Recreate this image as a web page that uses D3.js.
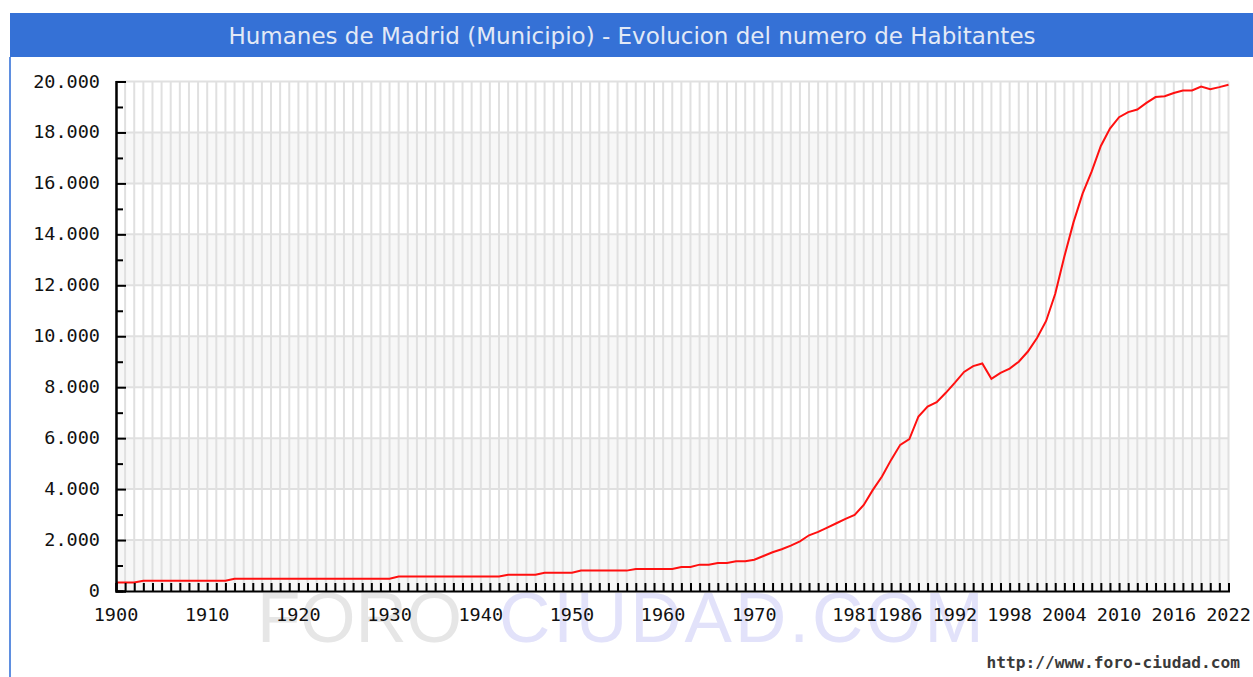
<!DOCTYPE html>
<html>
<head>
<meta charset="utf-8">
<script src="https://cdn.jsdelivr.net/npm/d3@7"></script>
<style>
  html, body { margin: 0; padding: 0; background: #ffffff; }
  svg { display: block; }
</style>
</head>
<body>
<svg id="chart" width="1253" height="677"></svg>
<script>
// ---------- data ----------
const titleText = "Humanes de Madrid (Municipio) - Evolucion del numero de Habitantes";
const sourceText = "http://www.foro-ciudad.com";
const firstYear = 1900;
const lastYear = 2022;
const years = d3.range(firstYear, lastYear + 1);
const population = [
  330, 330, 330,
  400, 400, 400, 400, 400, 400, 400, 400, 400, 400,
  480, 480, 480, 480, 480, 480, 480, 480, 480, 480, 480, 480, 480, 480, 480, 480, 480, 480,
  570, 570, 570, 570, 570, 570, 570, 570, 570, 570, 570, 570,
  640, 640, 640, 640,
  720, 720, 720, 720,
  800, 800, 800, 800, 800, 800,
  865, 865, 865, 865, 865,
  945, 945,
  1035, 1035,
  1100, 1100,
  1165, 1170,
  1230, 1375, 1519, 1637, 1781, 1951, 2187, 2318, 2489, 2659,
  2829, 2986, 3379, 3969, 4493, 5147, 5737, 5960, 6850, 7240,
  7410, 7780, 8180, 8600, 8830, 8930, 8330, 8560, 8730, 9000,
  9400, 9930, 10600, 11670, 13130, 14470, 15600, 16470, 17470, 18150,
  18600, 18800, 18900, 19160, 19390, 19420, 19550, 19650, 19650, 19800,
  19700, 19780, 19870
];
const xTickYears = [1900, 1910, 1920, 1930, 1940, 1950, 1960, 1970, 1981, 1986, 1992, 1998, 2004, 2010, 2016, 2022];
const yTicks = [0, 2000, 4000, 6000, 8000, 10000, 12000, 14000, 16000, 18000, 20000];
const yMinorTicks = [1000, 3000, 5000, 7000, 9000, 11000, 13000, 15000, 17000, 19000];
const watermarkParts = ["FORO", "CIUDAD.COM"];

// ---------- layout ----------
const svg = d3.select("#chart");
const plot = { left: 116, right: 1228.5, top: 81.5, bottom: 591 };
const x = d3.scaleLinear().domain([firstYear, lastYear]).range([plot.left, plot.right]);
const y = d3.scaleLinear().domain([0, 20000]).range([plot.bottom, plot.top]);
const esLocale = d3.formatLocale({ decimal: ",", thousands: ".", grouping: [3], currency: ["", ""] });
const fmt = esLocale.format(",");

// title bar
svg.append("rect").attr("x", 10).attr("y", 13).attr("width", 1243).attr("height", 44).attr("fill", "#3571d6");
svg.append("text").attr("x", 632).attr("y", 43.5).attr("text-anchor", "middle")
  .attr("font-family", "DejaVu Sans, Verdana, sans-serif").attr("font-size", 23)
  .attr("fill", "#e2e9f6").text(titleText);
// left border
svg.append("rect").attr("x", 9).attr("y", 57).attr("width", 2).attr("height", 620).attr("fill", "#5f8fe0");

// watermark
svg.append("text").attr("x", 257).attr("y", 642)
  .attr("font-family", "Liberation Sans, Arial, sans-serif").attr("font-size", 71)
  .attr("fill", "#e6e6e6").text(watermarkParts[0]);
svg.append("text").attr("x", 499).attr("y", 642)
  .attr("font-family", "Liberation Sans, Arial, sans-serif").attr("font-size", 71)
  .attr("letter-spacing", 3)
  .attr("fill", "#e2e2fa").text(watermarkParts[1]);

// bands
const bands = d3.range(0, yTicks.length - 1).filter(i => i % 2 === 0);
svg.append("g").selectAll("rect").data(bands).join("rect")
  .attr("x", plot.left).attr("width", plot.right - plot.left)
  .attr("y", i => y(yTicks[i + 1])).attr("height", i => y(yTicks[i]) - y(yTicks[i + 1]))
  .attr("fill", "#f7f7f7");

// vertical grid lines
svg.append("g").selectAll("line").data(years).join("line")
  .attr("x1", d => x(d)).attr("x2", d => x(d))
  .attr("y1", plot.top).attr("y2", plot.bottom)
  .attr("stroke", "#e0e0e0").attr("stroke-width", 2);
// horizontal grid lines
svg.append("g").selectAll("line").data(yTicks.slice(1)).join("line")
  .attr("x1", plot.left).attr("x2", plot.right)
  .attr("y1", d => y(d)).attr("y2", d => y(d))
  .attr("stroke", "#e0e0e0").attr("stroke-width", 2);

// line
const line = d3.line().x((d, i) => x(years[i])).y(d => y(d));
svg.append("path").datum(population).attr("d", line)
  .attr("fill", "none").attr("stroke", "#ff1010").attr("stroke-width", 2);

// axes
const axisFont = "DejaVu Sans Mono, monospace";
const yAxis = d3.axisRight(y).tickValues(yTicks).tickSize(10).tickFormat("");
const yAxisMinor = d3.axisRight(y).tickValues(yMinorTicks).tickSize(7).tickFormat("");
const gy = svg.append("g").attr("transform", `translate(${plot.left},0)`).call(yAxis);
const gy2 = svg.append("g").attr("transform", `translate(${plot.left},0)`).call(yAxisMinor);
[gy, gy2].forEach(g => {
  g.select(".domain").attr("stroke", "#000").attr("stroke-width", 2);
  g.selectAll(".tick line").attr("stroke", "#000").attr("stroke-width", 2);
});
svg.append("g").selectAll("text").data(yTicks).join("text")
  .attr("x", 100).attr("y", d => y(d) + 6).attr("text-anchor", "end")
  .attr("font-family", axisFont).attr("font-size", 18.5).attr("fill", "#111")
  .text(d => fmt(d));

const xAxis = d3.axisTop(x).tickValues(years).tickSize(8).tickFormat("");
const gx = svg.append("g").attr("transform", `translate(0,${plot.bottom})`).call(xAxis);
gx.select(".domain").attr("stroke", "#000").attr("stroke-width", 2);
gx.selectAll(".tick line").attr("stroke", "#000").attr("stroke-width", 2);
svg.append("g").selectAll("text").data(xTickYears).join("text")
  .attr("x", d => x(d)).attr("y", 621).attr("text-anchor", "middle")
  .attr("font-family", axisFont).attr("font-size", 18.5).attr("fill", "#111")
  .text(d => d);

// source
svg.append("text").attr("x", 1240).attr("y", 668).attr("text-anchor", "end")
  .attr("font-family", axisFont).attr("font-size", 16.2).attr("font-weight", "bold").attr("fill", "#3a3a3a")
  .text(sourceText);
</script>
</body>
</html>
